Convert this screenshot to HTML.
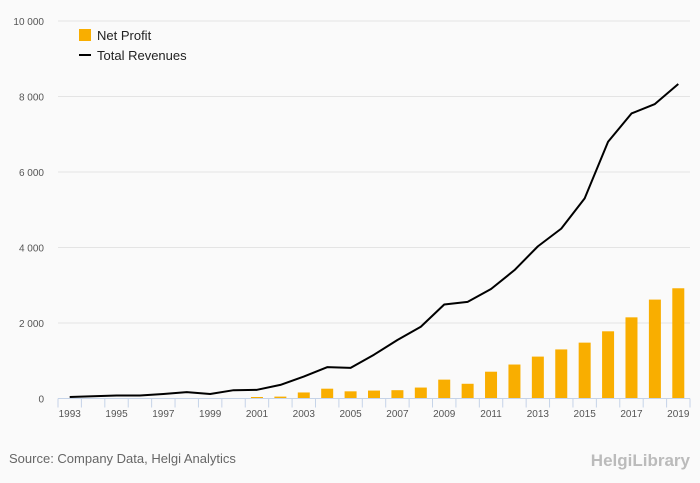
<!DOCTYPE html>
<html><head><meta charset="utf-8"><style>
body{margin:0;background:#fafafa;font-family:"Liberation Sans",sans-serif}
svg{display:block}
</style></head><body>
<svg width="700" height="483" id="c">
<rect width="700" height="483" fill="#fafafa"/>
<g id="grid"></g><g id="bars"></g><g id="line"></g><g id="axis"></g>
<g>
<rect x="79" y="29" width="12" height="12" fill="#f9ae00"/>
<text x="97" y="40" font-size="13" fill="#222">Net Profit</text>
<line x1="79" y1="55" x2="91" y2="55" stroke="#000" stroke-width="2"/>
<text x="97" y="60" font-size="13" fill="#222">Total Revenues</text>
</g>
<text x="9" y="463" font-size="13" fill="#666">Source: Company Data, Helgi Analytics</text>
<text x="690" y="466" font-size="17" fill="#bbb" text-anchor="end" font-weight="bold">HelgiLibrary</text>
</svg>
<script>
const years=[1993,1994,1995,1996,1997,1998,1999,2000,2001,2002,2003,2004,2005,2006,2007,2008,2009,2010,2011,2012,2013,2014,2015,2016,2017,2018,2019];
const revenues=[40,60,80,80,120,170,120,220,230,360,580,830,810,1160,1550,1900,2490,2560,2900,3400,4030,4500,5300,6800,7550,7800,8330];
const netProfit=[0,0,0,0,0,0,0,10,40,50,160,260,190,210,220,290,500,390,710,900,1110,1300,1480,1780,2150,2620,2920];
const yTicks=[0,2000,4000,6000,8000,10000];
const yTickLabels=["0","2 000","4 000","6 000","8 000","10 000"];
const NS="http://www.w3.org/2000/svg";
const x0=58,x1=690,y0=398.5,yTop=21;
const bw=(x1-x0)/years.length;
const X=i=>x0+bw*(i+0.5);
const Y=v=>y0-(v/10000)*(y0-yTop);
function mk(t,a,p){const e=document.createElementNS(NS,t);for(const k in a)e.setAttribute(k,a[k]);p.appendChild(e);return e;}
const grid=document.getElementById('grid');
yTicks.forEach((v,i)=>{
 if(v>0){const l=mk('line',{x1:x0,x2:x1,y1:Y(v),y2:Y(v),stroke:'#e4e4e4'},grid);
 
 }
 const t=mk('text',{x:44,y:Y(v)+4,'font-size':10,fill:'#555','text-anchor':'end'},grid);
 t.textContent=yTickLabels[i];
 
 
});
const bars=document.getElementById('bars');
netProfit.forEach((v,i)=>{
 const r=mk('rect',{x:X(i)-6,y:Y(v),width:12,height:y0-Y(v),fill:'#f9ae00'},bars);
 
 
});
const pl=mk('polyline',{points:revenues.map((v,i)=>X(i)+','+Y(v)).join(' '),fill:'none',stroke:'#000','stroke-width':2,'stroke-linejoin':'round'},document.getElementById('line'));


const ax=document.getElementById('axis');
const al=mk('line',{x1:x0,x2:x1,y1:y0,y2:y0,stroke:'#c5d3e8'},ax);


for(let i=0;i<=years.length;i++){const tk=mk('line',{x1:x0+bw*i,x2:x0+bw*i,y1:y0,y2:y0+9,stroke:'#c5d3e8'},ax);
 
 }
years.forEach((y,i)=>{if(i%2==0){const t=mk('text',{x:X(i),y:417,'font-size':10,fill:'#555','text-anchor':'middle'},ax);t.textContent=y;
 
 }});
</script>
</body></html>
